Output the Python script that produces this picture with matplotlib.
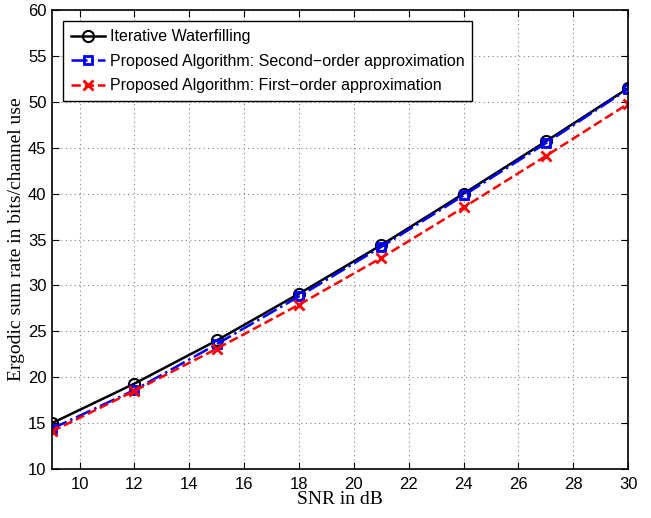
import matplotlib
matplotlib.use("Agg")
import matplotlib.pyplot as plt

snr = [9, 12, 15, 18, 21, 24, 27, 30]
iterative = [15.0, 19.3, 24.0, 29.1, 34.4, 40.0, 45.7, 51.5]
second_order = [14.4, 18.6, 23.6, 28.8, 34.2, 39.8, 45.5, 51.4]
first_order = [14.1, 18.5, 23.1, 27.9, 33.0, 38.5, 44.1, 49.8]

xticks = [10, 12, 14, 16, 18, 20, 22, 24, 26, 28, 30]
yticks = [10, 15, 20, 25, 30, 35, 40, 45, 50, 55, 60]

fig = plt.figure(figsize=(6.51, 5.18), dpi=100)
ax = fig.add_axes([0.08, 0.0946, 0.885, 0.886])

ax.plot(snr, iterative, '-', color='black', lw=1.8, marker='o', ms=8,
        mfc='none', mec='black', mew=1.5, label='Iterative Waterfilling')
ax.plot(snr, second_order, '-.', color='blue', lw=1.8, marker='s', ms=6,
        mfc='none', mec='blue', mew=2, label='Proposed Algorithm: Second\u2212order approximation')
ax.plot(snr, first_order, '--', color='red', lw=1.8, marker='x', ms=7,
        mec='red', mew=2, label='Proposed Algorithm: First\u2212order approximation')

ax.set_xlim(9, 30)
ax.set_ylim(10, 60)
ax.set_xticks(xticks)
ax.set_yticks(yticks)
ax.grid(True, linestyle=(0, (1, 3)), color='0.5', lw=0.8)
ax.tick_params(direction='in', top=True, right=True, length=5, labelsize=12)
ax.tick_params(axis='y', pad=4)
ax.tick_params(axis='x', pad=6)
for lab in ax.get_xticklabels() + ax.get_yticklabels():
    lab.set_family('Liberation Sans')
for s in ax.spines.values():
    s.set_linewidth(1.2)

ax.set_xlabel('SNR in dB', family='Liberation Serif', fontsize=14)
ax.set_ylabel('Ergodic sum rate in bits/channel use', family='Liberation Serif', fontsize=14)
ax.yaxis.set_label_coords(-0.047, 0.5)
ax.xaxis.set_label_coords(0.5, -0.049)

leg = ax.legend(loc='upper left', prop={'family': 'Liberation Sans', 'size': 11.5},
                fancybox=False, edgecolor='black', framealpha=1, borderaxespad=0.7,
                handlelength=2.1, handletextpad=0.3, labelspacing=0.6, borderpad=0.5)
leg.get_frame().set_linewidth(1.0)

fig.savefig('out.png', dpi=100)
